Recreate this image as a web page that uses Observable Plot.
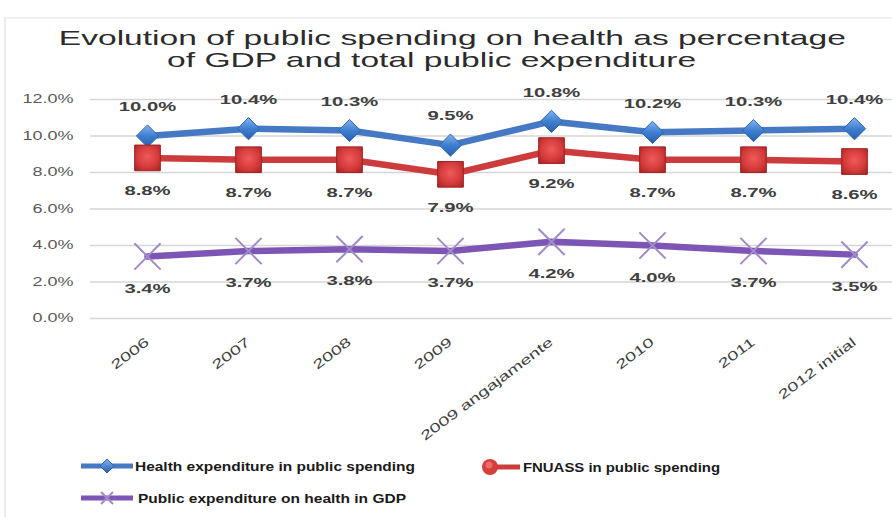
<!DOCTYPE html>
<html>
<head>
<meta charset="utf-8">
<script src="https://cdn.jsdelivr.net/npm/d3@7"></script>
<script src="https://cdn.jsdelivr.net/npm/@observablehq/plot@0.6"></script>
<style>
  body { margin: 0; background: #fff; }
  #wrap { position: relative; width: 892px; height: 517px; overflow: hidden; font-family: "Liberation Sans", Arial, sans-serif; background: #fff; }
  .frame { position: absolute; left: 4px; top: 17px; width: 900px; height: 520px; border-left: 2px solid #ececec; border-top: 2px solid #f0f0f0; }
  .title { position: absolute; white-space: nowrap; font-size: 21px; line-height: 24px; color: #2b2b2b; transform-origin: 50% 50%; }
  #chart { position: absolute; left: 0; top: 80px; }
  .leg { position: absolute; white-space: nowrap; display: flex; align-items: center; }
  .leg span { font-size: 13px; font-weight: bold; color: #1a1a1a; display: inline-block; transform-origin: 0 50%; }
</style>
</head>
<body>
<div id="wrap">
  <div class="frame"></div>
  <div class="title" id="t1">Evolution of public spending on health as percentage</div>
  <div class="title" id="t2">of GDP and total public expenditure</div>
  <div id="chart"></div>
  <div class="leg" id="leg1" style="left:80px;top:458px;"></div>
  <div class="leg" id="leg2" style="left:480px;top:458px;"></div>
  <div class="leg" id="leg3" style="left:80px;top:490px;"></div>
</div>
<script>
// ---- data ----
const categories = ["2006", "2007", "2008", "2009", "2009 angajamente", "2010", "2011", "2012 initial"];
const healthInPublic = [10.0, 10.4, 10.3, 9.5, 10.8, 10.2, 10.3, 10.4];
const fnuassInPublic = [8.8, 8.7, 8.7, 7.9, 9.2, 8.7, 8.7, 8.6];
const healthInGDP = [3.4, 3.7, 3.8, 3.7, 4.2, 4.0, 3.7, 3.5];
const yTicks = [0, 2, 4, 6, 8, 10, 12];
const seriesNames = ["Health expenditure in public spending", "FNUASS in public spending", "Public expenditure on health in GDP"];

const rows = categories.map((c, i) => ({cat: c, health: healthInPublic[i], fnuass: fnuassInPublic[i], gdp: healthInGDP[i]}));
const fmt = v => v.toFixed(1) + "%";

const NS = "http://www.w3.org/2000/svg";
const defs = () => {
  const g = document.createElementNS(NS, "defs");
  g.innerHTML = `
    <linearGradient id="gBlue" x1="0" y1="0" x2="0" y2="1">
      <stop offset="0" stop-color="#82b4f0"/><stop offset="0.5" stop-color="#3f7fd0"/><stop offset="1" stop-color="#285fae"/>
    </linearGradient>
    <radialGradient id="gRed" cx="0.5" cy="0.45" r="0.7">
      <stop offset="0" stop-color="#f05a5a"/><stop offset="0.6" stop-color="#d43a3a"/><stop offset="1" stop-color="#a82424"/>
    </radialGradient>`;
  return g;
};

const chart = Plot.plot({
  width: 892,
  height: 365,
  marginLeft: 90,
  marginRight: 0,
  marginTop: 19,
  marginBottom: 127,
  style: {background: "transparent", fontFamily: "'Liberation Sans', Arial, sans-serif"},
  x: {type: "point", domain: categories, range: [146, 854], padding: 0, label: null},
  y: {domain: [0, 12], label: null},
  marks: [
    defs,
    Plot.gridY(yTicks, {stroke: "#d6d6d6", strokeOpacity: 1, strokeWidth: 1.5}),
    Plot.axisY(yTicks, {tickSize: 0, tickPadding: 17, tickFormat: d => d.toFixed(1) + "%", fontSize: 12, color: "#595959", label: null}),
    Plot.axisX({tickSize: 0, tickPadding: 22, tickRotate: -37, fontSize: 13, color: "#404040", label: null}),
    Plot.line(rows, {x: "cat", y: "health", stroke: "#4579c3", strokeWidth: 6.5, strokeLinejoin: "round"}),
    Plot.line(rows, {x: "cat", y: "fnuass", stroke: "#cc3c3c", strokeWidth: 6.5, strokeLinejoin: "round"}),
    Plot.line(rows, {x: "cat", y: "gdp", stroke: "#7d55b4", strokeWidth: 6.5, strokeLinejoin: "round"}),
    Plot.dot(rows, {x: "cat", y: "health", symbol: "diamond2", r: 10, fill: "url(#gBlue)", stroke: "#2f65ad", strokeWidth: 1}),
    Plot.dot(rows, {x: "cat", y: "fnuass", symbol: "square", r: 14.5, fill: "url(#gRed)", stroke: "#9e2222", strokeWidth: 1}),
    Plot.dot(rows, {x: "cat", y: "gdp", symbol: "times", r: 12, stroke: "#a18bc8", strokeWidth: 2}),
    Plot.text(rows, {x: "cat", y: "health", text: d => fmt(d.health), dy: -29, fontSize: 13.5, fontWeight: "bold", fill: "#404040"}),
    Plot.text(rows, {x: "cat", y: "fnuass", text: d => fmt(d.fnuass), dy: 33, fontSize: 13.5, fontWeight: "bold", fill: "#404040"}),
    Plot.text(rows, {x: "cat", y: "gdp", text: d => fmt(d.gdp), dy: 32, fontSize: 13.5, fontWeight: "bold", fill: "#404040"})
  ]
});
document.getElementById("chart").appendChild(chart);

// horizontal stretch of text as in the reference
chart.querySelectorAll("text").forEach(t => {
  const len = t.getComputedTextLength();
  if (len > 0) {
    t.setAttribute("textLength", (len * 1.5).toFixed(1));
    t.setAttribute("lengthAdjust", "spacingAndGlyphs");
  }
});

// title
function placeTitle(id, cx, top, scale) {
  const el = document.getElementById(id);
  el.style.top = top + "px";
  const w = el.getBoundingClientRect().width;
  el.style.left = (cx - w / 2) + "px";
  el.style.transform = `scaleX(${scale})`;
  return w;
}
const t1w = document.getElementById("t1").getBoundingClientRect().width;
const s = 787 / t1w;
placeTitle("t1", 452, 26, s);
placeTitle("t2", 432, 48, s);

// legend
const icons = [
  `<svg width="54" height="16"><line x1="1" y1="8" x2="53" y2="8" stroke="#4579c3" stroke-width="5"/><path d="M27,1 L34,8 L27,15 L20,8Z" fill="url(#gBlue2)" stroke="#2f65ad"/><defs><linearGradient id="gBlue2" x1="0" y1="0" x2="0" y2="1"><stop offset="0" stop-color="#82b4f0"/><stop offset="1" stop-color="#285fae"/></linearGradient></defs></svg>`,
  `<svg width="42" height="18"><line x1="10" y1="9" x2="40" y2="9" stroke="#cc3c3c" stroke-width="5"/><circle cx="10" cy="9" r="8" fill="#d63d3d"/><circle cx="9" cy="7" r="3.5" fill="#f08080" opacity="0.7"/></svg>`,
  `<svg width="54" height="16"><line x1="1" y1="8" x2="53" y2="8" stroke="#7d55b4" stroke-width="5"/><path d="M21,2 L33,14 M33,2 L21,14" stroke="#a18bc8" stroke-width="2"/></svg>`
];
const legendTargets = [280, 197, 268];
["leg1", "leg2", "leg3"].forEach((id, i) => {
  const el = document.getElementById(id);
  el.innerHTML = icons[i] + `<span style="margin-left:${i === 2 ? 4 : 1}px">${seriesNames[i]}</span>`;
  const sp = el.querySelector("span");
  const w = sp.getBoundingClientRect().width;
  sp.style.transform = `scaleX(${legendTargets[i] / w})`;
});
</script>
</body>
</html>
